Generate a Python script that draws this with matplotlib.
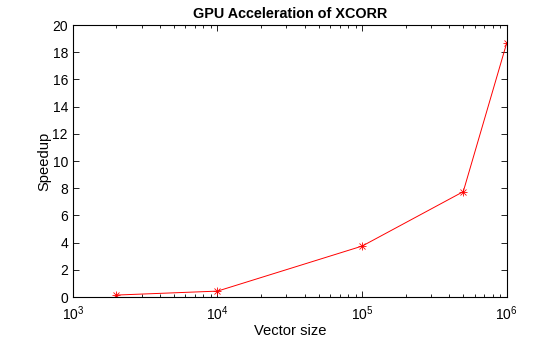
import matplotlib
matplotlib.use('Agg')
import matplotlib.pyplot as plt

plt.rcParams['font.family'] = ['Liberation Sans', 'DejaVu Sans']

vec_size = [2e3, 1e4, 1e5, 5e5, 1e6]
speedup = [0.15, 0.44, 3.75, 7.75, 18.7]

fig = plt.figure(figsize=(5.6, 3.38), dpi=100)
ax = fig.add_axes([0.130, 0.121, 0.775, 0.805])

# line plus an asterisk marker built from '+' and 'x'
ax.semilogx(vec_size, speedup, color='r', ls='-', lw=0.7)
ax.semilogx(vec_size, speedup, color='r', ls='none', marker='+', ms=6, mew=0.6)
ax.semilogx(vec_size, speedup, color='r', ls='none', marker='x', ms=4.5, mew=0.6)

ax.set_xlim(1e3, 1e6)
ax.set_ylim(0, 20)
ax.set_yticks(range(0, 21, 2))
ax.tick_params(which='both', direction='in', top=True, right=True,
               labelsize=10, width=0.6)
ax.tick_params(which='major', length=4)
ax.tick_params(which='minor', length=2)
ax.tick_params(axis='x', pad=5)
for sp in ax.spines.values():
    sp.set_linewidth(0.8)

ax.set_title('GPU Acceleration of XCORR', fontsize=10.4, fontweight='bold', pad=5)
ax.set_xlabel('Vector size', fontsize=10.6, labelpad=1)
ax.set_ylabel('Speedup', fontsize=10.6, labelpad=1)

fig.savefig('out.png', dpi=100)
